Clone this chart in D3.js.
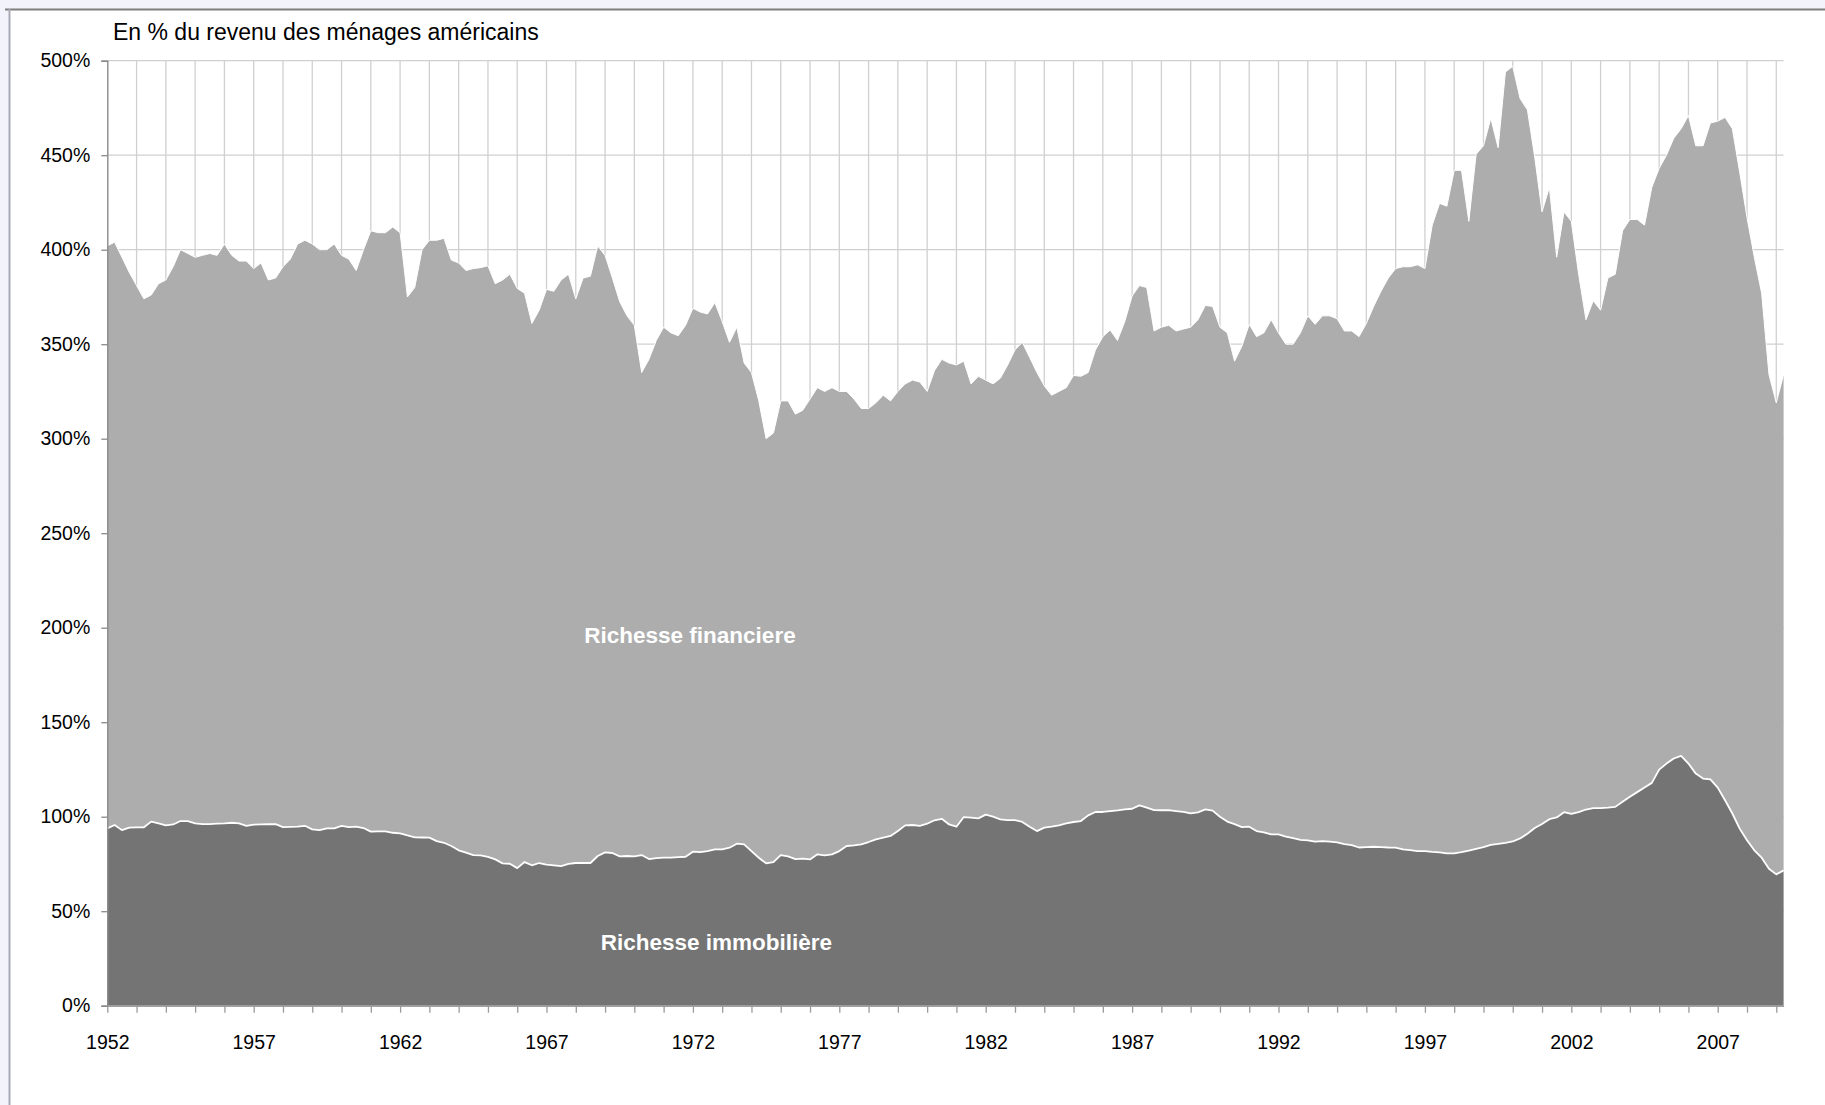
<!DOCTYPE html>
<html lang="fr">
<head>
<meta charset="utf-8">
<script src="https://cdn.jsdelivr.net/npm/d3@7"></script>
<style>
  html, body { margin: 0; padding: 0; background: #f3f3fb; }
  svg { display: block; }
  .axis text { font-family: "Liberation Sans", Arial, sans-serif; fill: #000; }
</style>
</head>
<body>
<svg id="chart" width="1825" height="1105"></svg>
<script>
// Quarterly series, 1952 Q1 onward, in % of household income
const firstYear = 1952;
const quartersPerYear = 4;

const realEstate = [
  93.8, 95.6, 92.9, 94.2, 94.4, 94.4, 97.4, 96.5, 95.4, 95.9,
  97.7, 97.7, 96.5, 96.1, 96.1, 96.3, 96.5, 96.8, 96.5, 95.2,
  95.8, 95.9, 96.0, 96.1, 94.5, 94.6, 94.7, 95.2, 93.3, 92.9,
  93.8, 93.8, 95.1, 94.5, 94.7, 94.0, 92.1, 92.2, 92.2, 91.5,
  91.2, 90.1, 89.1, 89.0, 88.9, 87.1, 86.2, 84.5, 82.2, 81.0,
  79.7, 79.5, 78.7, 77.4, 75.3, 75.1, 72.8, 76.0, 74.3, 75.5,
  74.6, 74.3, 73.9, 75.0, 75.5, 75.5, 75.5, 79.2, 81.1, 80.8,
  79.0, 79.2, 79.0, 79.7, 77.6, 78.1, 78.3, 78.3, 78.6, 78.8,
  81.5, 81.3, 81.8, 82.7, 82.7, 83.6, 85.7, 85.4, 81.8, 78.3,
  75.3, 76.0, 79.7, 79.0, 77.6, 77.8, 77.4, 80.1, 79.5, 80.1,
  81.8, 84.5, 84.8, 85.4, 86.6, 88.0, 88.9, 89.8, 92.4, 95.4,
  95.6, 95.2, 96.3, 98.1, 98.9, 95.9, 94.7, 99.8, 99.5, 99.1,
  101.1, 100.0, 98.6, 98.2, 98.2, 97.2, 94.7, 92.4, 94.2, 94.7,
  95.4, 96.5, 97.2, 97.7, 100.7, 102.5, 102.5, 103.0, 103.4, 103.9,
  104.2, 106.0, 104.8, 103.5, 103.4, 103.5, 103.0, 102.5, 101.8, 102.3,
  103.9, 103.2, 100.0, 97.4, 96.1, 94.5, 94.7, 92.4, 91.7, 90.6,
  90.6, 89.4, 88.7, 87.7, 87.5, 86.8, 87.1, 86.8, 86.4, 85.5,
  85.0, 83.7, 83.9, 84.1, 83.9, 83.7, 83.6, 82.7, 82.3, 81.8,
  81.8, 81.4, 81.1, 80.6, 80.6, 81.2, 82.1, 83.0, 83.9, 85.1,
  85.6, 86.2, 86.9, 88.5, 91.0, 94.0, 96.1, 98.7, 99.6, 102.4,
  101.5, 102.4, 103.8, 104.5, 104.5, 104.8, 105.2, 107.9, 110.5, 113.0,
  115.4, 117.9, 124.9, 128.1, 130.8, 132.2, 128.1, 122.8, 120.2, 119.7,
  115.4, 108.7, 101.7, 93.7, 87.5, 82.2, 78.3, 72.5, 69.5, 71.6
];

const financial = [
  308.2, 308.4, 303.1, 293.8, 286.6, 279.6, 278.6, 285.5, 288.6, 295.1,
  302.3, 300.3, 299.5, 300.9, 301.9, 300.7, 306.5, 300.2, 297.5, 298.8,
  294.2, 297.1, 288.0, 288.9, 296.5, 300.4, 308.3, 309.8, 309.7, 307.1,
  306.2, 309.2, 301.9, 300.5, 294.3, 306.0, 317.9, 316.8, 316.8, 320.5,
  317.8, 284.9, 290.9, 311.0, 316.1, 317.9, 319.8, 310.0, 310.8, 308.0,
  310.3, 311.0, 312.8, 304.6, 308.7, 311.9, 306.7, 301.0, 286.7, 292.5,
  304.4, 303.7, 310.1, 312.0, 298.5, 309.5, 310.5, 322.8, 315.9, 304.2,
  293.5, 285.8, 281.0, 255.3, 264.4, 273.9, 280.7, 277.7, 275.9, 281.2,
  287.5, 285.7, 284.2, 289.3, 279.3, 267.4, 273.3, 254.6, 253.2, 241.7,
  224.7, 227.0, 240.3, 241.0, 235.4, 237.2, 243.6, 246.9, 245.5, 246.9,
  243.2, 240.5, 236.2, 230.6, 229.4, 231.0, 234.1, 230.2, 232.6, 233.6,
  235.4, 234.8, 228.7, 237.9, 243.1, 244.1, 244.3, 241.2, 229.5, 233.9,
  229.9, 229.0, 233.4, 240.8, 248.8, 253.8, 248.3, 242.6, 233.8, 228.3,
  229.6, 230.5, 236.3, 235.3, 234.3, 244.5, 251.5, 254.5, 248.6, 258.1,
  271.3, 275.0, 275.2, 253.5, 255.6, 256.5, 254.0, 255.5, 257.2, 260.7,
  266.6, 266.8, 259.0, 258.6, 244.9, 254.5, 265.8, 261.6, 264.3, 272.4,
  265.4, 260.6, 261.3, 268.3, 277.5, 273.7, 277.9, 278.2, 277.1, 271.5,
  272.0, 270.3, 277.1, 285.9, 294.1, 301.3, 306.4, 308.3, 308.7, 310.2,
  308.2, 331.6, 343.4, 342.4, 361.4, 360.8, 332.9, 367.5, 371.1, 384.4,
  368.4, 407.8, 410.1, 391.5, 383.0, 355.0, 323.9, 334.3, 296.4, 317.6,
  313.5, 284.6, 259.2, 268.5, 263.5, 280.2, 281.8, 302.1, 305.5, 303.0,
  297.6, 315.1, 318.1, 321.9, 328.2, 331.8, 342.9, 332.2, 334.8, 347.3,
  352.6, 361.3, 362.3, 347.3, 329.5, 313.8, 298.7, 261.5, 249.5, 262.4
];

const seriesNames = ["Richesse immobilière", "Richesse financiere"];
const yTicks = [0, 50, 100, 150, 200, 250, 300, 350, 400, 450, 500];
const xLabelYears = [1952, 1957, 1962, 1967, 1972, 1977, 1982, 1987, 1992, 1997, 2002, 2007];
const titleText = "En % du revenu des ménages américains";

// Rows for the stack: one per quarter
const rows = realEstate.map((v, i) => ({
  t: firstYear + i / quartersPerYear,
  immo: v,
  fin: financial[i]
}));
const lastT = rows[rows.length - 1].t;
const yearTicks = d3.range(firstYear, Math.floor(lastT) + 1);

const svg = d3.select("#chart");
const W = 1825, H = 1105;
const plot = { left: 107.3, right: 1783.6, top: 60.7, bottom: 1005.7 };

// Frame of the chart area
svg.append("rect").attr("x", 10).attr("y", 10).attr("width", W - 10).attr("height", H - 10)
  .attr("fill", "#ffffff");
svg.append("line").attr("x1", 5).attr("x2", W).attr("y1", 9.5).attr("y2", 9.5)
  .attr("stroke", "#7f7f7f").attr("stroke-width", 2);
svg.append("line").attr("x1", 9.5).attr("x2", 9.5).attr("y1", 9).attr("y2", H)
  .attr("stroke", "#a9a9b8").attr("stroke-width", 2);

const x = d3.scaleLinear().domain([firstYear, lastT]).range([plot.left, plot.right]);
const y = d3.scaleLinear().domain([0, 500]).range([plot.bottom, plot.top]);

// Gridlines
const grid = svg.append("g").attr("class", "grid");
grid.selectAll("line.h").data(yTicks.filter(d => d > 0)).join("line")
  .attr("class", "h")
  .attr("x1", plot.left).attr("x2", plot.right)
  .attr("y1", d => y(d)).attr("y2", d => y(d))
  .attr("stroke", "#d0d0d0").attr("stroke-width", 1.3);
grid.selectAll("line.v").data(yearTicks.filter(d => d > firstYear)).join("line")
  .attr("class", "v")
  .attr("x1", d => x(d)).attr("x2", d => x(d))
  .attr("y1", plot.top).attr("y2", plot.bottom)
  .attr("stroke", "#d0d0d0").attr("stroke-width", 1.3);

// Stacked areas
const stack = d3.stack().keys(["immo", "fin"]);
const layers = stack(rows);
const colors = { immo: "#747474", fin: "#adadad" };

const area = d3.area()
  .x(d => x(d.data.t))
  .y0(d => y(d[0]))
  .y1(d => y(d[1]));

svg.append("g").selectAll("path").data(layers.slice().reverse()).join("path")
  .attr("d", area)
  .attr("fill", d => colors[d.key]);

// White edge along the top of each layer
const topLine = d3.line().x(d => x(d.data.t)).y(d => y(d[1]));
svg.append("g").selectAll("path").data(layers).join("path")
  .attr("d", topLine)
  .attr("fill", "none")
  .attr("stroke", "#ffffff")
  .attr("stroke-width", d => d.key === "immo" ? 1.8 : 1)
  .attr("stroke-linejoin", "round");

// Axes
const yAxis = d3.axisLeft(y).tickValues(yTicks).tickFormat(d => d + "%")
  .tickSize(6).tickPadding(11);
const gy = svg.append("g").attr("class", "axis")
  .attr("transform", `translate(${plot.left},0)`).call(yAxis);
gy.selectAll("text").attr("font-size", 19.5);
gy.select(".domain").attr("stroke", "#8a8a8a").attr("stroke-width", 1.4);
gy.selectAll(".tick line").attr("stroke", "#8a8a8a").attr("stroke-width", 1.3);

const xAxis = d3.axisBottom(x).tickValues(yearTicks)
  .tickFormat(d => xLabelYears.includes(d) ? String(d) : "")
  .tickSize(7).tickSizeOuter(0).tickPadding(22);
const gx = svg.append("g").attr("class", "axis")
  .attr("transform", `translate(0,${plot.bottom})`).call(xAxis);
gx.selectAll("text").attr("font-size", 19.5);
gx.select(".domain").attr("stroke", "#a0a0a0").attr("stroke-width", 1.6);
gx.selectAll(".tick line").attr("stroke", "#9a9a9a").attr("stroke-width", 1.3);

// Title
svg.append("text")
  .attr("x", 113).attr("y", 40)
  .attr("font-family", "'Liberation Sans', Arial, sans-serif")
  .attr("font-size", 23)
  .attr("fill", "#000")
  .text(titleText);

// Series labels inside their areas
const seriesLabels = [
  { name: seriesNames[1], t: 1971.9, v: 192 },
  { name: seriesNames[0], t: 1972.8, v: 29.5 }
];
svg.append("g").selectAll("text").data(seriesLabels).join("text")
  .attr("x", d => x(d.t)).attr("y", d => y(d.v))
  .attr("text-anchor", "middle")
  .attr("font-family", "'Liberation Sans', Arial, sans-serif")
  .attr("font-weight", "bold")
  .attr("font-size", 22.5)
  .attr("fill", "#ffffff")
  .text(d => d.name);
</script>
</body>
</html>
